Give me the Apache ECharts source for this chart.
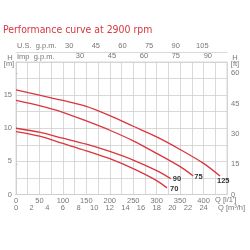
<!DOCTYPE html>
<html><head><meta charset="utf-8">
<script src="https://cdn.jsdelivr.net/npm/echarts@6/dist/echarts.min.js"></script>
<style>html,body{margin:0;padding:0;background:#fff}#c{width:250px;height:250px}</style>
</head><body><div id="c"></div>
<script>
// Flow Q [l/min] and head H [m] per impeller curve
const names = ['125', '75', '90', '70'];
const q125 = [0, 50, 100, 150, 200, 250, 300, 350, 400, 435];
const h125 = [15.8, 15.0, 14.2, 13.3, 11.9, 10.3, 8.7, 6.8, 4.7, 2.8];
const q75 = [0, 50, 100, 150, 200, 250, 300, 350, 378];
const h75 = [14.2, 13.4, 12.4, 11.1, 9.7, 8.1, 6.2, 4.2, 2.8];
const q90 = [0, 50, 100, 150, 200, 250, 300, 330];
const h90 = [10.0, 9.4, 8.5, 7.6, 6.5, 5.2, 3.6, 2.4];
const q70 = [0, 50, 100, 150, 200, 250, 300, 322];
const h70 = [9.5, 8.8, 7.7, 6.6, 5.4, 3.9, 2.1, 1.0];
const usGpmTicks = [30, 45, 60, 75, 90, 105];
const impGpmTicks = [30, 45, 60, 75, 90];
const ftTicks = [0, 15, 30, 45, 60];

const QMAX = 450, HMAX = 20;
const RED = '#d9363e', GRID = '#cfcfcf', TXT = '#777';
const FONT = '"Liberation Sans", Arial, sans-serif';
const FSTR = '7.5px "Liberation Sans", Arial, sans-serif';
const FNARROW = '7.5px "Liberation Sans Narrow", "Liberation Sans", sans-serif';
const lbl = {color: TXT, fontSize: 7.5, fontFamily: FONT};

const curves = [[q125, h125], [q75, h75], [q90, h90], [q70, h70]];
const offsets = [[-3, 5], [1, 0.5], [2, 0.5], [3, 1]];

function txt(text, x, y, align, font) {
  return {type: 'text', x: x, y: y, silent: true,
    style: {text: text, fill: TXT, font: font || FSTR, align: align || 'left', verticalAlign: 'middle'}};
}

const chart = echarts.init(document.getElementById('c'), null, {renderer: 'canvas'});
chart.setOption({
  animation: false,
  title: {text: 'Performance curve at 2900 rpm', left: -2, top: 20, padding: 5,
    textStyle: {color: RED, fontSize: 10.4, fontWeight: 'normal', fontFamily: '"Liberation Sans Narrow", "DejaVu Sans Condensed", sans-serif'}},
  grid: {left: 16, right: 23, top: 62, bottom: 55.5, show: true, borderColor: GRID, borderWidth: 0.8,
    containLabel: false, outerBoundsMode: 'none'},
  graphic: [
    txt('H', 10, 57.5, 'center'), txt('[m]', 9, 64, 'center'),
    txt('H', 235, 57.5, 'center'), txt('[ft]', 235, 64, 'center'),
    txt("Q [l/1']", 215, 199.5, 'left', FNARROW), txt('Q [m³/h]', 218, 208, 'left', FNARROW)
  ],
  xAxis: [
    {type: 'value', min: 0, max: QMAX, interval: 25, position: 'bottom',
     axisLine: {show: true, lineStyle: {color: GRID, width: 0.8}}, axisTick: {show: false},
     splitLine: {show: true, lineStyle: {color: GRID, width: 0.8}},
     axisLabel: Object.assign({margin: 2, formatter: v => (v % 50 === 0 && v <= 400) ? String(v) : ''}, lbl)},
    {type: 'value', min: 0, max: QMAX / 16.6667, interval: 2, position: 'bottom', offset: 8,
     axisLine: {show: true, lineStyle: {color: GRID, width: 0.8}}, axisTick: {show: false}, splitLine: {show: false},
     axisLabel: Object.assign({margin: 1, formatter: v => (v % 2 === 0 && v <= 24) ? String(v) : ''}, lbl)},
    {type: 'value', min: 0, max: QMAX / 3.785411784, interval: 15, position: 'top', offset: 10,
     axisLine: {show: true, lineStyle: {color: GRID, width: 0.8}}, axisTick: {show: false}, splitLine: {show: false},
     axisLabel: Object.assign({margin: 2, formatter: v => usGpmTicks.includes(v) ? String(v) : ''}, lbl),
     name: 'U.S.  g.p.m.', nameLocation: 'start', nameGap: -1,
     nameTextStyle: Object.assign({align: 'left', verticalAlign: 'bottom', padding: [0, 0, 2, 0]}, lbl)},
    {type: 'value', min: 0, max: QMAX / 4.54609, interval: 15, position: 'top', offset: 0,
     axisLine: {show: false}, axisTick: {show: false}, splitLine: {show: false},
     axisLabel: Object.assign({margin: 2, formatter: v => impGpmTicks.includes(v) ? String(v) : ''}, lbl),
     name: 'Imp  g.p.m.', nameLocation: 'start', nameGap: -1,
     nameTextStyle: Object.assign({align: 'left', verticalAlign: 'bottom', padding: [0, 0, 1, 0]}, lbl)}
  ],
  yAxis: [
    {type: 'value', min: 0, max: HMAX, interval: 2.5, position: 'left',
     axisLine: {show: true, lineStyle: {color: GRID, width: 0.8}}, axisTick: {show: false},
     splitLine: {show: true, lineStyle: {color: GRID, width: 0.8}},
     axisLabel: Object.assign({margin: 4, formatter: v => (v % 5 === 0 && v < 20) ? String(v) : ''}, lbl)},
    {type: 'value', min: 0, max: HMAX / 0.3048, interval: 15, position: 'right', alignTicks: false,
     axisLine: {show: false}, axisTick: {show: true, length: 2, lineStyle: {color: GRID}}, splitLine: {show: false},
     axisLabel: Object.assign({margin: 4, formatter: v => ftTicks.includes(v) ? String(v) : ''}, lbl)}
  ],
  series: curves.map((c, i) => ({
    name: names[i], type: 'line', xAxisIndex: 0, yAxisIndex: 0,
    data: c[0].map((q, j) => [q, c[1][j]]),
    smooth: 0.3, showSymbol: false, silent: true,
    lineStyle: {color: RED, width: 1.3},
    endLabel: {show: true, formatter: names[i], distance: 0, offset: offsets[i],
      color: '#333', fontSize: 7.5, fontWeight: 'bold', fontFamily: FONT}
  }))
});
</script></body></html>
